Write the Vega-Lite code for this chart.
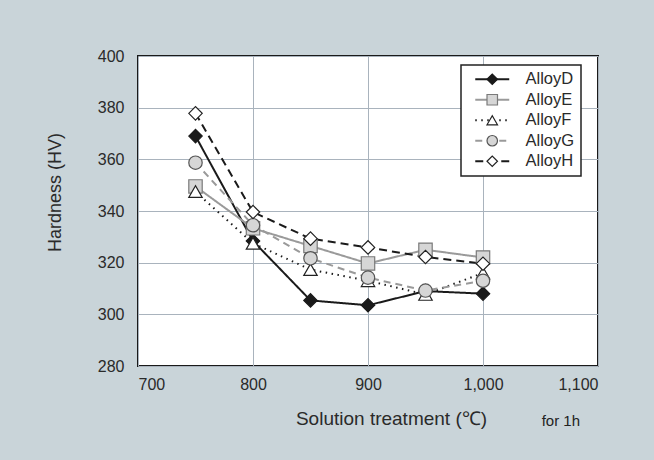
{
  "$schema": "https://vega.github.io/schema/vega-lite/v6.json",
  "width": 460,
  "height": 310,
  "autosize": {"type": "none"},
  "padding": {"left": 138, "top": 56, "right": 56, "bottom": 94},
  "background": "#c9d4d9",
  "title": {"text": "for 1h", "orient": "bottom", "anchor": "end", "frame": "group", "fontSize": 15, "fontWeight": "normal", "font": "Liberation Sans", "color": "#222222", "dx": -18, "dy": -18},
  "data": {
    "values": [
      {"alloy": "AlloyD", "temp": 750, "hv": 369},
      {"alloy": "AlloyD", "temp": 800, "hv": 328.4},
      {"alloy": "AlloyD", "temp": 850, "hv": 305.4},
      {"alloy": "AlloyD", "temp": 900, "hv": 303.5},
      {"alloy": "AlloyD", "temp": 950, "hv": 309},
      {"alloy": "AlloyD", "temp": 1000, "hv": 308},
      {"alloy": "AlloyE", "temp": 750, "hv": 349.5},
      {"alloy": "AlloyE", "temp": 800, "hv": 333.3},
      {"alloy": "AlloyE", "temp": 850, "hv": 326.5},
      {"alloy": "AlloyE", "temp": 900, "hv": 319.7},
      {"alloy": "AlloyE", "temp": 950, "hv": 325},
      {"alloy": "AlloyE", "temp": 1000, "hv": 322},
      {"alloy": "AlloyF", "temp": 750, "hv": 347.5},
      {"alloy": "AlloyF", "temp": 800, "hv": 327.5},
      {"alloy": "AlloyF", "temp": 850, "hv": 317.3},
      {"alloy": "AlloyF", "temp": 900, "hv": 313},
      {"alloy": "AlloyF", "temp": 950, "hv": 307.7},
      {"alloy": "AlloyF", "temp": 1000, "hv": 316},
      {"alloy": "AlloyG", "temp": 750, "hv": 358.7},
      {"alloy": "AlloyG", "temp": 800, "hv": 334.5},
      {"alloy": "AlloyG", "temp": 850, "hv": 321.7},
      {"alloy": "AlloyG", "temp": 900, "hv": 314.2},
      {"alloy": "AlloyG", "temp": 950, "hv": 309.2},
      {"alloy": "AlloyG", "temp": 1000, "hv": 313},
      {"alloy": "AlloyH", "temp": 750, "hv": 377.8},
      {"alloy": "AlloyH", "temp": 800, "hv": 339.6},
      {"alloy": "AlloyH", "temp": 850, "hv": 329.3},
      {"alloy": "AlloyH", "temp": 900, "hv": 325.9},
      {"alloy": "AlloyH", "temp": 950, "hv": 322.2},
      {"alloy": "AlloyH", "temp": 1000, "hv": 319.6}
    ]
  },
  "encoding": {
    "x": {
      "field": "temp", "type": "quantitative",
      "scale": {"domain": [700, 1100], "nice": false},
      "axis": {
        "values": [700, 800, 900, 1000, 1100], "format": ",d",
        "title": "Solution treatment (℃)",
        "titleX": 253, "titleY": 52, "titleAlign": "center", "titleBaseline": "middle",
        "labelPadding": 10
      }
    },
    "y": {
      "field": "hv", "type": "quantitative",
      "scale": {"domain": [280, 400], "nice": false, "zero": false},
      "axis": {
        "values": [280, 300, 320, 340, 360, 380, 400],
        "title": "Hardness (HV)",
        "titleX": -83, "titleY": 136, "titleAlign": "center", "titleBaseline": "middle", "titleAngle": -90,
        "titleFontSize": 18,
        "labelPadding": 14
      }
    }
  },
  "layer": [
    {
      "mark": {"type": "line", "strokeWidth": 2},
      "encoding": {
        "color": {
          "field": "alloy", "type": "nominal",
          "scale": {"range": ["#1a1a1a", "#9a9a9a", "#1a1a1a", "#9a9a9a", "#1a1a1a"]},
          "legend": {
            "orient": "none", "legendX": 323, "legendY": 9, "title": null,
            "symbolType": "M-3.24,0H3.24", "symbolSize": 110, "symbolStrokeWidth": 2,
            "padding": 6, "fillColor": "white", "strokeColor": "#222222",
            "labelFontSize": 16.5, "labelExpr": "datum.label + '      '",
            "symbolOffset": 17, "labelOffset": 25, "rowPadding": 3.5
          }
        },
        "strokeDash": {
          "field": "alloy", "type": "nominal",
          "scale": {"range": [[1, 0], [1, 0], [1.5, 4.5], [7, 5], [8, 5]]},
          "legend": {
            "orient": "none", "legendX": 323, "legendY": 9, "title": null,
            "symbolType": "M-3.24,0H3.24", "symbolSize": 110, "symbolStrokeWidth": 2,
            "padding": 6, "fillColor": "white", "strokeColor": "#222222",
            "labelFontSize": 16.5, "labelExpr": "datum.label + '      '",
            "symbolOffset": 17, "labelOffset": 25, "rowPadding": 3.5
          }
        }
      }
    },
    {
      "mark": {"type": "point", "filled": true, "size": 180, "strokeWidth": 1.2, "opacity": 1},
      "encoding": {
        "shape": {
          "field": "alloy", "type": "nominal",
          "scale": {"domain": ["AlloyD", "AlloyE", "AlloyF", "AlloyG", "AlloyH"], "range": ["diamond", "square", "triangle-up", "circle", "diamond"]},
          "legend": {
            "orient": "none", "legendX": 323, "legendY": 9, "title": null,
            "symbolSize": 110, "symbolStrokeWidth": 1.2,
            "padding": 6, "labelFontSize": 16.5, "labelExpr": "''",
            "symbolOffset": 17, "labelOffset": 25, "rowPadding": 3.5
          }
        },
        "fill": {
          "field": "alloy", "type": "nominal",
          "scale": {"domain": ["AlloyD", "AlloyE", "AlloyF", "AlloyG", "AlloyH"], "range": ["#1a1a1a", "#d6d6d6", "#ffffff", "#d6d6d6", "#ffffff"]},
          "legend": {
            "orient": "none", "legendX": 323, "legendY": 9, "title": null,
            "symbolSize": 110, "symbolStrokeWidth": 1.2,
            "padding": 6, "labelFontSize": 16.5, "labelExpr": "''",
            "symbolOffset": 17, "labelOffset": 25, "rowPadding": 3.5
          }
        },
        "stroke": {
          "field": "alloy", "type": "nominal",
          "scale": {"domain": ["AlloyD", "AlloyE", "AlloyF", "AlloyG", "AlloyH"], "range": ["#1a1a1a", "#7a7a7a", "#222222", "#555555", "#222222"]},
          "legend": {
            "orient": "none", "legendX": 323, "legendY": 9, "title": null,
            "symbolSize": 110, "symbolStrokeWidth": 1.2,
            "padding": 6, "labelFontSize": 16.5, "labelExpr": "''",
            "symbolOffset": 17, "labelOffset": 25, "rowPadding": 3.5
          }
        }
      }
    }
  ],
  "config": {
    "font": "Liberation Sans",
    "view": {"stroke": "#1a1a1a", "strokeWidth": 2, "fill": "white"},
    "axis": {
      "domain": false, "ticks": false,
      "grid": true, "gridColor": "#a9b3bd", "gridWidth": 1,
      "labelFont": "Liberation Sans", "labelFontSize": 16, "labelColor": "#2a2a2a",
      "titleFont": "Liberation Sans", "titleFontSize": 19, "titleFontWeight": "normal", "titleColor": "#2a2a2a"
    },
    "legend": {"labelFont": "Liberation Sans", "labelColor": "#2a2a2a", "strokeWidth": 1.5}
  }
}
